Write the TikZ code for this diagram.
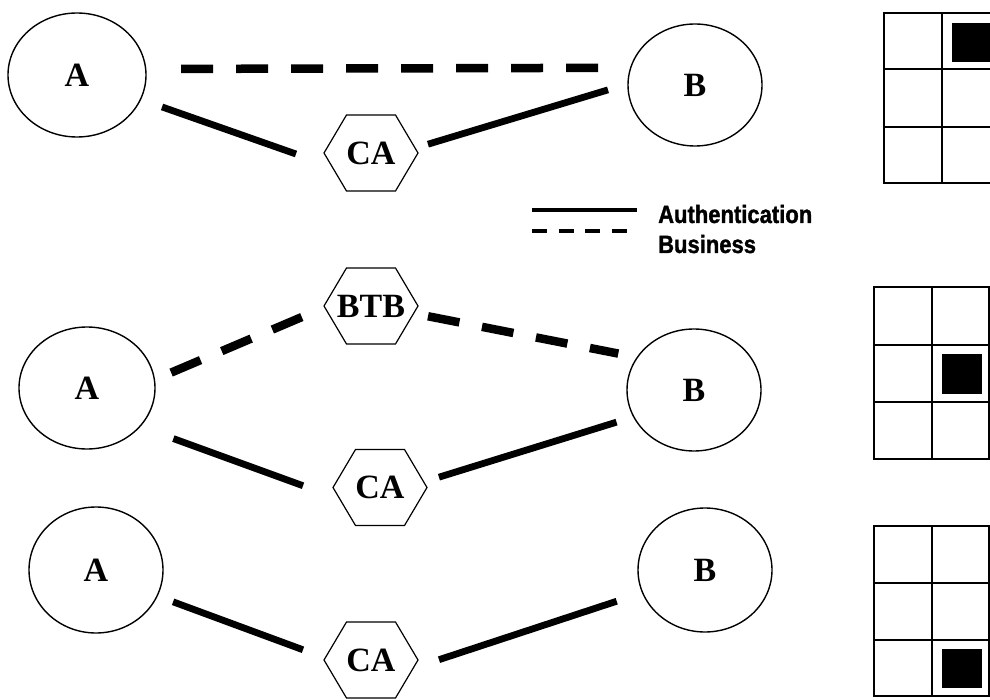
\documentclass[tikz,border=0pt]{standalone}
\usepackage{fontspec}
\setmainfont{Liberation Serif}
\newfontfamily\legendfont[FakeStretch=0.88, FakeBold=1.3]{Liberation Sans}
\usetikzlibrary{shapes.geometric}

% hexagonal outline around a 94x76 box node
\newcommand\hexframe[1]{%
  \draw[hexline] (#1.west) -- ([xshift=22.5pt]#1.north west)
    -- ([xshift=-22.5pt]#1.north east) -- (#1.east)
    -- ([xshift=-22.5pt]#1.south east) -- ([xshift=22.5pt]#1.south west) -- cycle;}

\begin{document}
\begin{tikzpicture}[x=1pt,y=-1pt,
  party/.style={ellipse, draw, line width=1.4pt, inner sep=0pt, outer sep=0pt,
    font=\fontsize{34}{34}\selectfont\bfseries},
  hexbox/.style={rectangle, minimum width=94pt, minimum height=76pt,
    inner sep=0pt, outer sep=0pt, font=\fontsize{34}{34}\selectfont\bfseries},
  hexline/.style={line width=1.2pt, line join=miter},
  auth/.style={line width=6.8pt},
  biz/.style={line width=8.5pt, dash pattern=on 32pt off 23pt},
  legauth/.style={line width=4.2pt},
  legbiz/.style={line width=4.2pt, dash pattern=on 15pt off 11.5pt},
  legtext/.style={anchor=base west, inner sep=0pt,
    font=\legendfont\bfseries\fontsize{25}{25}\selectfont},
  gridline/.style={line width=2.4pt},
  mark square/.style={fill=black}]

\useasboundingbox (0,0) rectangle (990,700);
\clip (0,0) rectangle (990,700);
\fill[white] (0,0) rectangle (990,700);

% ---------- first scenario: direct business, CA authentication ----------
\node[party, minimum width=138pt, minimum height=124pt] (A1) at (77,75) {A};
\node[party, minimum width=134pt, minimum height=122pt] (B1) at (695,85) {B};
\node[hexbox] (CA1) at (371,153) {CA};
\hexframe{CA1}

\draw[biz, shorten <=35.4pt, shorten >=30.7pt] (A1.5.8) -- (B1.165.2);
\draw[auth, shorten <=22.9pt, shorten >=29.7pt] (A1.-21) -- (CA1.193);
\draw[auth, shorten <=10.4pt, shorten >=20.9pt] (CA1.7.3) -- (B1.179.1);

% ---------- legend ----------
\coordinate (legSolidL) at (532,210);
\coordinate (legSolidR) at (637,210);
\coordinate (legDashL) at (532,231);
\coordinate (legDashR) at (637,231);
\draw[legauth] (legSolidL) -- (legSolidR);
\draw[legbiz] (legDashL) -- (legDashR);
\node[legtext] (legAuth) at (658,223) {Authentication};
\node[legtext] (legBiz) at (658,253) {Business};

% ---------- second scenario: business through BTB ----------
\node[party, minimum width=136pt, minimum height=122pt] (A2) at (87,388) {A};
\node[party, minimum width=134pt, minimum height=122pt] (B2) at (694,390) {B};
\node[hexbox] (BTB) at (371,306) {BTB};
\node[hexbox] (CA2) at (380,487.5) {CA};
\hexframe{BTB}
\hexframe{CA2}

\draw[biz, shorten <=18.2pt, shorten >=22.75pt] (A2.7.6) -- (BTB.182.7);
\draw[biz, shorten <=10.2pt, shorten >=19.5pt] (BTB.-10.9) -- (B2.150.4);
\draw[auth, shorten <=35.7pt, shorten >=31.9pt] (A2.-36.55) -- (CA2.191.3);
\draw[auth, shorten <=12.5pt, shorten >=18.1pt] (CA2.8.3) -- (B2.204.9);

% ---------- third scenario: authentication only ----------
\node[party, minimum width=134pt, minimum height=126pt] (A3) at (96,570) {A};
\node[party, minimum width=134pt, minimum height=124pt] (B3) at (705,570) {B};
\node[hexbox] (CA3) at (371,660) {CA};
\hexframe{CA3}

\draw[auth, shorten <=17.1pt, shorten >=22.4pt] (A3.-23.2) -- (CA3.177.3);
\draw[auth, shorten <=22.1pt, shorten >=27.3pt] (CA3.-8.3) -- (B3.200.8);

% ---------- position grids ----------
% top grid (runs past the right edge)
\fill[mark square] (952,23) rectangle (992,62);
\draw[gridline] (884,13) rectangle (1000,183);
\draw[gridline] (942,13) -- (942,183);
\draw[gridline] (884,69) -- (1000,69);
\draw[gridline] (884,127) -- (1000,127);

% middle grid
\fill[mark square] (942,354) rectangle (982,394);
\draw[gridline] (874,287) rectangle (989,459);
\draw[gridline] (932,287) -- (932,459);
\draw[gridline] (874,345) -- (989,345);
\draw[gridline] (874,402) -- (989,402);

% bottom grid
\fill[mark square] (942,649) rectangle (982,688);
\draw[gridline] (874,526) rectangle (989,696);
\draw[gridline] (932,526) -- (932,696);
\draw[gridline] (874,583) -- (989,583);
\draw[gridline] (874,640) -- (989,640);

\end{tikzpicture}
\end{document}
